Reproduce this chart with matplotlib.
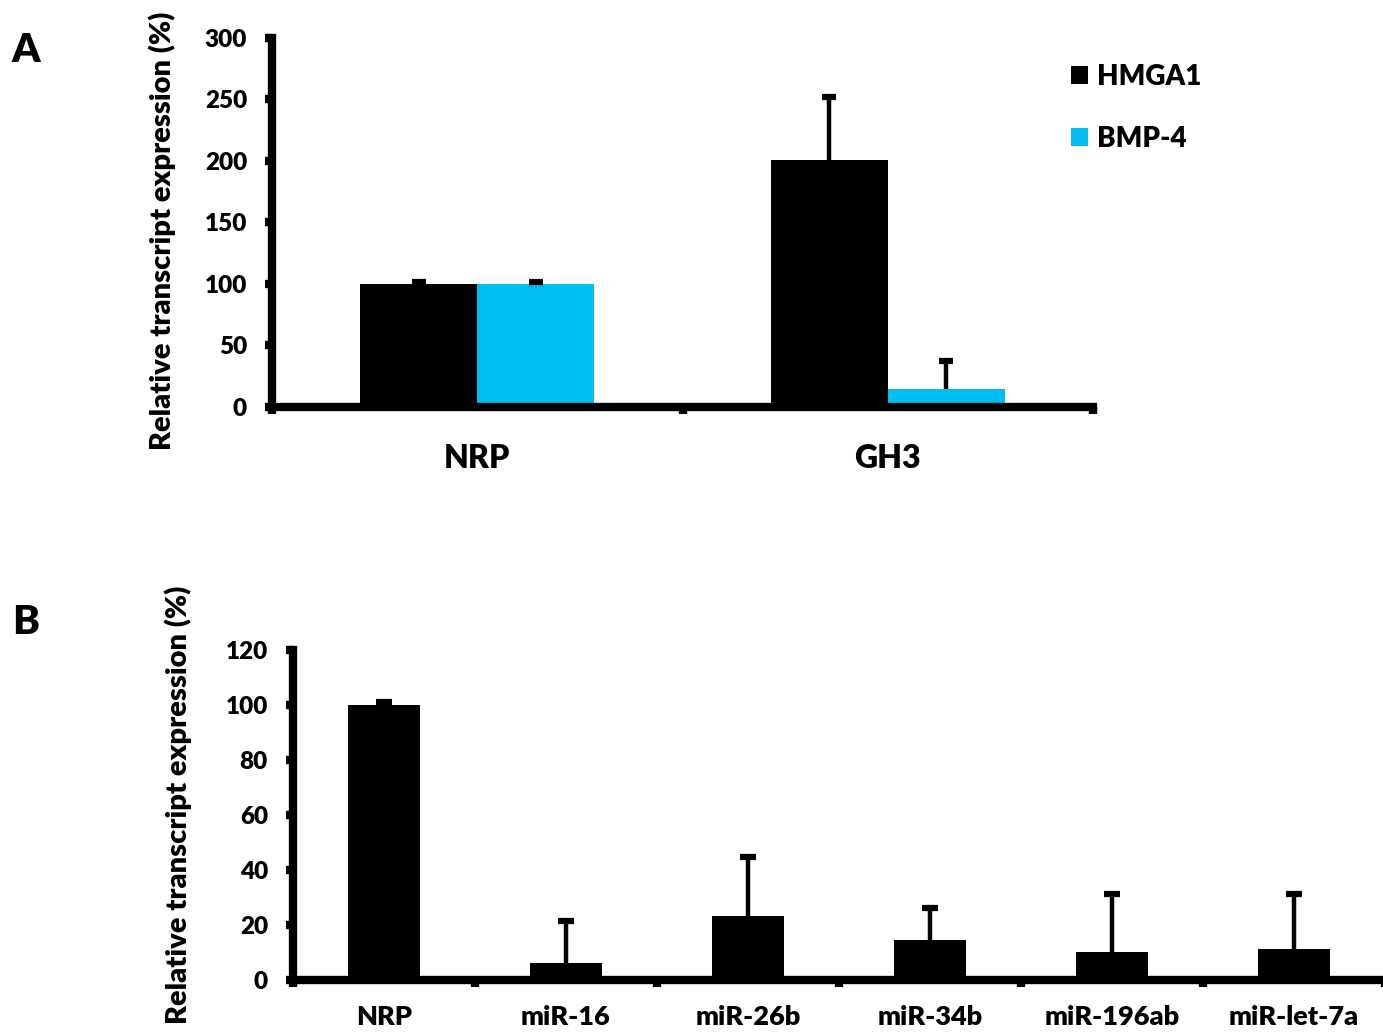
import numpy as np
import matplotlib.pyplot as plt
from matplotlib.patches import Patch

plt.rcParams['font.family'] = ['Lato', 'DejaVu Sans']
plt.rcParams['font.weight'] = 'heavy'
plt.rcParams['axes.labelweight'] = 'heavy'

# panel A data
groups_a = ['NRP', 'GH3']
hmga1 = [100, 201]
hmga1_err = [1.5, 51]
bmp4 = [100, 15]
bmp4_err = [1.5, 22]

# panel B data
labels_b = ['NRP', 'miR-16', 'miR-26b', 'miR-34b', 'miR-196ab', 'miR-let-7a']
values_b = [100, 6.2, 23.3, 14.5, 10.2, 11.3]
errors_b = [1, 15.3, 21.4, 11.7, 21.1, 20]

W, H = 1383, 1035
cyan = '#00BEF2'
ylab = 'Relative transcript expression (%)'

fig = plt.figure(figsize=(W / 100, H / 100), dpi=100)


def box(x0, y0, x1, y1):
    return [x0 / W, 1 - y1 / H, (x1 - x0) / W, (y1 - y0) / H]


def style(ax, n, top, step, cat_size, pad):
    for s in ['top', 'right']:
        ax.spines[s].set_visible(False)
    for s in ['left', 'bottom']:
        ax.spines[s].set_linewidth(6)
    ax.set_xlim(-0.5, n - 0.5)
    ax.set_ylim(0, top)
    ax.set_yticks(np.arange(0, top + 1, step))
    ax.tick_params(axis='y', direction='out', length=5, width=6, pad=13, labelsize=17.5)
    ax.set_xticks(range(n))
    ax.set_xticks(np.arange(n + 1) - 0.5, minor=True)
    ax.tick_params(axis='x', which='major', length=0, pad=pad, labelsize=cat_size)
    ax.tick_params(axis='x', which='minor', direction='out', length=5, width=6)
    for t in ax.get_xticklabels() + ax.get_yticklabels():
        t.set_fontweight('heavy')


def upper_err(ax, x, y, e, capw):
    y = np.asarray(y, dtype=float)
    e = np.asarray(e, dtype=float)
    ax.vlines(x, y, y + e, color='black', lw=3.2, zorder=3)
    ax.plot(x, y + e, ls='none', marker='_', ms=capw, mew=4.5, color='black', zorder=3)


# ---- A ----
axa = fig.add_axes(box(272, 38, 1093, 407))
xa = np.arange(len(groups_a))
bw = 0.285
axa.bar(xa - bw / 2, hmga1, bw, color='black', lw=0, label='HMGA1')
axa.bar(xa + bw / 2, bmp4, bw, color=cyan, lw=0, label='BMP-4')
upper_err(axa, xa - bw / 2, hmga1, hmga1_err, 10)
upper_err(axa, xa + bw / 2, bmp4, bmp4_err, 10)
axa.set_xticklabels(groups_a)
style(axa, 2, 300, 50, 23, 27)
axa.set_ylabel(ylab, fontsize=21, va='center')
axa.yaxis.set_label_coords(-0.134, 0.477)

handles = [Patch(color='black', lw=0), Patch(color=cyan, lw=0)]
fig.legend(handles, ['HMGA1', 'BMP-4'], loc='upper left',
           bbox_to_anchor=(1071 / W, 1 - 64 / H), frameon=False,
           prop={'size': 20, 'weight': 'heavy'},
           handlelength=0.62, handleheight=0.62, handletextpad=0.3,
           labelspacing=1.3, borderpad=0, borderaxespad=0)

# ---- B ----
axb = fig.add_axes(box(293, 650, 1385, 980))
xb = np.arange(len(labels_b))
axb.bar(xb, values_b, 0.4, color='black', lw=0)
upper_err(axb, xb, values_b, errors_b, 11)
axb.set_xticklabels(labels_b)
style(axb, 6, 120, 20, 19.5, 18)
axb.set_ylabel(ylab, fontsize=21, va='center')
axb.yaxis.set_label_coords(-0.1055, 0.53)

fig.text(12 / W, 1 - 62 / H, 'A', fontsize=29, fontweight='heavy', ha='left', va='baseline')
fig.text(12 / W, 1 - 634 / H, 'B', fontsize=29, fontweight='heavy', ha='left', va='baseline')

fig.savefig('out.png', dpi=100)
